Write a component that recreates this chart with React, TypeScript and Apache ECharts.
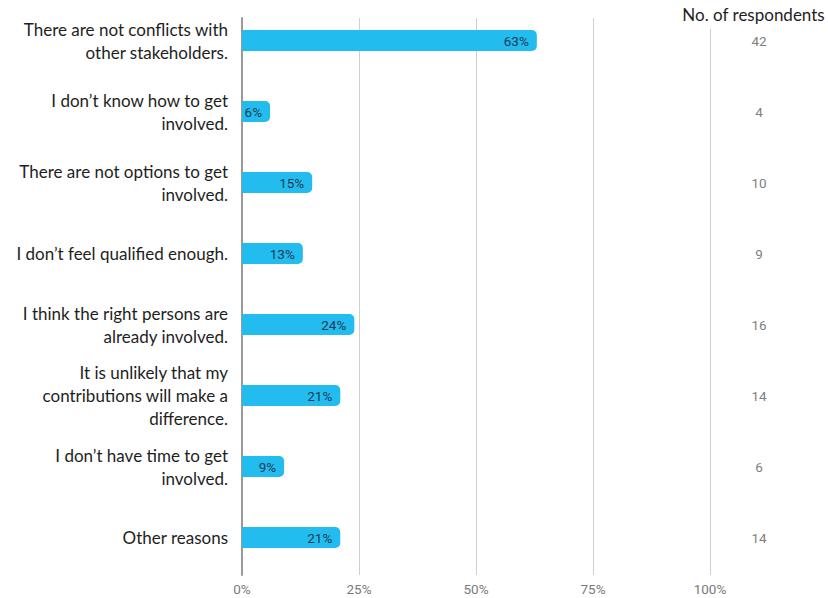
import React, { useEffect, useRef } from "react";
import * as echarts from "echarts";

const categories: string[] = [
  "There are not conflicts with\nother stakeholders.",
  "I don’t know how to get\ninvolved.",
  "There are not options to get\ninvolved.",
  "I don’t feel qualified enough.",
  "I think the right persons are\nalready involved.",
  "It is unlikely that my\ncontributions will make a\ndifference.",
  "I don’t have time to get\ninvolved.",
  "Other reasons",
];
const percentages: number[] = [63, 6, 15, 13, 24, 21, 9, 21];
const respondents: number[] = [42, 4, 10, 9, 16, 14, 6, 14];
const xTicks: number[] = [0, 25, 50, 75, 100];
const rightTitle = "No. of respondents";

export default function App() {
  const ref = useRef<HTMLDivElement>(null);
  useEffect(() => {
    if (!ref.current) return;
    const chart = echarts.init(ref.current, undefined, { renderer: "svg" });
    chart.setOption({
      animation: false,
      backgroundColor: "#ffffff",
      title: {
        text: rightTitle,
        right: 0,
        top: 3,
        padding: [3, 3, 6, 6],
        backgroundColor: "#ffffff",
        z: 10,
        textStyle: { fontFamily: "Lato", fontSize: 17, fontWeight: "normal", color: "#1e1e1e" },
      },
      grid: [
        { left: 242, right: 118, top: 5, bottom: 25 },
        { left: 242, right: 118, top: 18, bottom: 23 },
      ],
      xAxis: [
        { gridIndex: 0, type: "value", min: 0, max: 100, show: false },
        {
          gridIndex: 1,
          type: "value",
          min: xTicks[0],
          max: xTicks[xTicks.length - 1],
          interval: 25,
          axisLine: { show: false },
          axisTick: { show: false },
          splitLine: { show: true, lineStyle: { color: "#cfcfcf", width: 1 } },
          axisLabel: {
            margin: 7,
            formatter: "{value}%",
            fontFamily: "Roboto",
            fontSize: 13.5,
            color: "#7a7a7a",
          },
        },
      ],
      yAxis: [
        {
          gridIndex: 0,
          type: "category",
          data: categories,
          inverse: true,
          axisLine: { show: false },
          axisTick: { show: false },
          axisLabel: {
            margin: 14,
            align: "right",
            fontFamily: "Lato",
            fontSize: 17,
            lineHeight: 23,
            color: "#1e1e1e",
          },
        },
        {
          gridIndex: 0,
          type: "category",
          position: "right",
          data: respondents.map(String),
          inverse: true,
          axisLine: { show: false },
          axisTick: { show: false },
          axisLabel: {
            margin: 49,
            align: "center",
            fontFamily: "Roboto",
            fontSize: 13.5,
            color: "#808080",
          },
        },
        {
          gridIndex: 1,
          type: "category",
          data: categories,
          axisLine: { show: true, lineStyle: { color: "#9a9a9a", width: 2 } },
          axisTick: { show: false },
          axisLabel: { show: false },
        },
      ],
      series: [
        {
          type: "bar",
          xAxisIndex: 0,
          yAxisIndex: 0,
          data: percentages,
          barWidth: 21,
          itemStyle: { color: "#22bdee", borderRadius: [0, 5, 5, 0] },
          label: {
            show: true,
            position: "insideRight",
            distance: 8,
            formatter: "{c}%",
            fontFamily: "Roboto",
            fontSize: 13.5,
            color: "#1d3a57",
          },
        },
      ],
    });
    return () => chart.dispose();
  }, []);
  return <div ref={ref} style={{ width: 828, height: 598, position: "absolute", left: 0, top: 0 }} />;
}
